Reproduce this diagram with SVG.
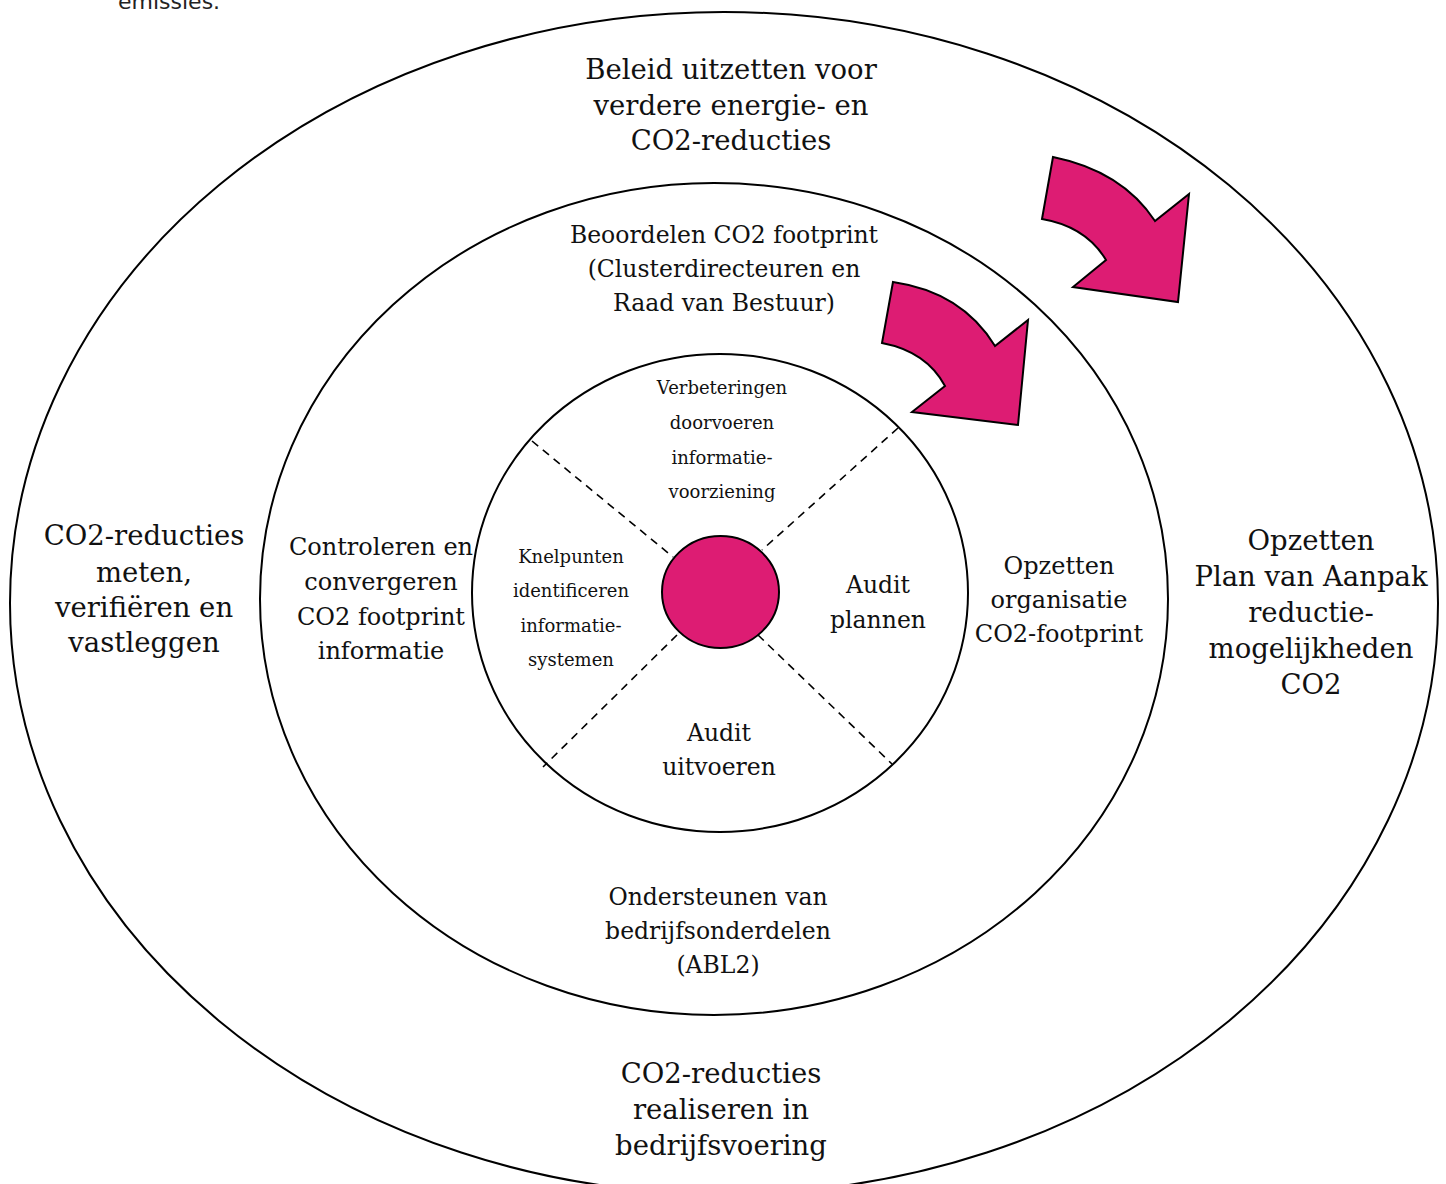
<svg xmlns="http://www.w3.org/2000/svg" width="1446" height="1184" viewBox="0 0 1446 1184">
<style>
.ring{fill:none;stroke:#000;stroke-width:2}
.dash{fill:none;stroke:#000;stroke-width:1.6;stroke-dasharray:8 6}
.pink{fill:#DD1C73;stroke:#000;stroke-width:2;stroke-linejoin:miter}
text{font-family:"DejaVu Serif","Liberation Serif",serif;fill:#111;text-anchor:middle}
.t28{font-size:27.5px}
.t24{font-size:24px}
.t23{font-size:23.5px}
.t18{font-size:18px}
.note{font-family:"DejaVu Sans","Liberation Sans",sans-serif;font-size:22px;text-anchor:start;fill:#222}
</style>
<rect width="1446" height="1184" fill="#fff"/>
<text class="note" x="118" y="9">emissies.</text>

<g id="outer-ring">
<ellipse class="ring" cx="724" cy="603" rx="714" ry="591"/>
<text class="t28" x="731" y="79">Beleid uitzetten voor</text>
<text class="t28" x="731" y="115">verdere energie- en</text>
<text class="t28" x="731" y="150">CO2-reducties</text>
</g>
<g id="outer-left">
<text class="t28" x="144" y="545">CO2-reducties</text>
<text class="t28" x="144" y="582">meten,</text>
<text class="t28" x="144" y="617">verifiëren en</text>
<text class="t28" x="144" y="652">vastleggen</text>
</g>
<g id="outer-right">
<text class="t28" x="1311" y="550">Opzetten</text>
<text class="t28" x="1311" y="586">Plan van Aanpak</text>
<text class="t28" x="1311" y="622">reductie-</text>
<text class="t28" x="1311" y="658">mogelijkheden</text>
<text class="t28" x="1311" y="694">CO2</text>
</g>
<g id="outer-bottom">
<text class="t28" x="721" y="1083">CO2-reducties</text>
<text class="t28" x="721" y="1119">realiseren in</text>
<text class="t28" x="721" y="1155">bedrijfsvoering</text>
</g>

<g id="middle-ring">
<ellipse class="ring" cx="714" cy="599" rx="454" ry="416"/>
<text class="t23" x="724" y="243">Beoordelen CO2 footprint</text>
<text class="t23" x="724" y="277">(Clusterdirecteuren en</text>
<text class="t23" x="724" y="311">Raad van Bestuur)</text>
</g>
<g id="middle-left">
<text class="t24" x="381" y="555">Controleren en</text>
<text class="t24" x="381" y="590">convergeren</text>
<text class="t24" x="381" y="625">CO2 footprint</text>
<text class="t24" x="381" y="659">informatie</text>
</g>
<g id="middle-right">
<text class="t24" x="1059" y="574">Opzetten</text>
<text class="t24" x="1059" y="608">organisatie</text>
<text class="t24" x="1059" y="642">CO2-footprint</text>
</g>
<g id="middle-bottom">
<text class="t23" x="718" y="905">Ondersteunen van</text>
<text class="t23" x="718" y="939">bedrijfsonderdelen</text>
<text class="t23" x="718" y="973">(ABL2)</text>
</g>

<g id="inner-ring">
<ellipse class="ring" cx="720" cy="593" rx="248" ry="239"/>
</g>
<g id="connectors">
<line class="dash" x1="532" y1="441" x2="673" y2="557"/>
<line class="dash" x1="898" y1="428" x2="762" y2="550"/>
<line class="dash" x1="677" y1="635" x2="543" y2="767"/>
<line class="dash" x1="758" y1="635" x2="892" y2="764"/>
</g>
<g id="inner-top">
<text class="t18" x="722" y="394">Verbeteringen</text>
<text class="t18" x="722" y="429">doorvoeren</text>
<text class="t18" x="722" y="464">informatie-</text>
<text class="t18" x="722" y="498">voorziening</text>
</g>
<g id="inner-left">
<text class="t18" x="571" y="563">Knelpunten</text>
<text class="t18" x="571" y="597">identificeren</text>
<text class="t18" x="571" y="632">informatie-</text>
<text class="t18" x="571" y="666">systemen</text>
</g>
<g id="inner-right">
<text class="t23" x="878" y="593">Audit</text>
<text class="t23" x="878" y="628">plannen</text>
</g>
<g id="inner-bottom">
<text class="t23" x="719" y="741">Audit</text>
<text class="t23" x="719" y="775">uitvoeren</text>
</g>
<g id="core">
<ellipse class="pink" cx="720.5" cy="592" rx="58.5" ry="56"/>
</g>
<g id="arrow-outer">
<path class="pink" d="M1053,157 Q1122,171 1155,221 L1189,194 L1178,302 L1073,287 L1106,260 Q1086,226.5 1042,219 Z"/>
</g>
<g id="arrow-inner">
<path class="pink" d="M893,282 Q962,292 995,346 L1028,320 L1018,425 L912,412 L945,386 Q926.5,351.5 882,343 Z"/>
</g>
</svg>
